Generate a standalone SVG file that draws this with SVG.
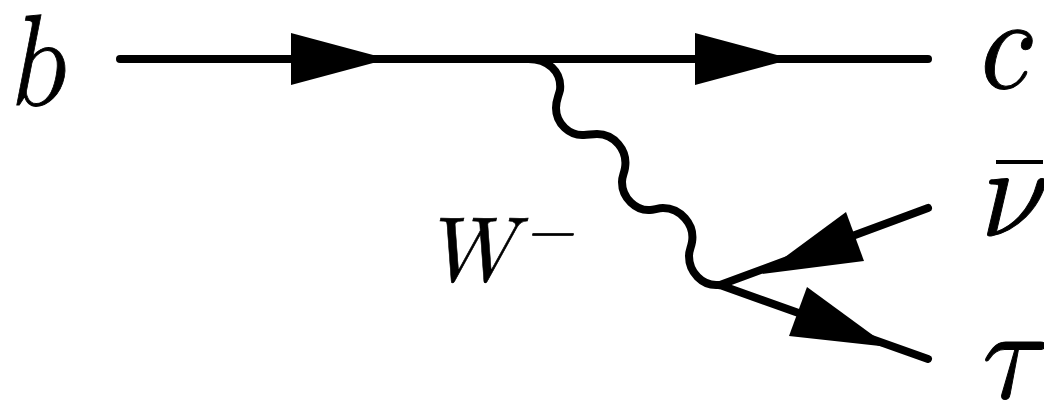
<svg xmlns="http://www.w3.org/2000/svg" width="1044" height="401" viewBox="0 0 1044 401">
<style>
.l{fill:none;stroke:#000;stroke-width:8;stroke-linecap:round;stroke-linejoin:round}
.a{fill:#000;stroke:none}
.t{font-family:"Latin Modern Math","Liberation Serif",serif;font-style:italic;fill:#000;stroke:#000;stroke-width:1}
</style>
<rect width="1044" height="401" fill="#fff"/>
<g id="connectors">
<path class="l" d="M120 59H928"/>
<path class="a" d="M291 33L388 59L291 85Z"/>
<path class="a" d="M695 33L792 59L695 85Z"/>
<path class="l" d="M526 59C548 58 562 72 560 90C558 98 556 100 556 108C556 124 570 136 584 135C588 135 592 134 597 134C614 134 628 150 625 168C624 174 622 176 622 182C622 198 636 211 650 210C654 210 658 208 663 208C680 208 695 224 692 242C691 248 689 250 689 256C689 272 702 286 718 285"/>
<path class="l" d="M720 285L928 208"/>
<path class="a" d="M762 274L846 212L864 261Z"/>
<path class="l" d="M720 285L928 359"/>
<path class="a" d="M807 287L889 347L789 336Z"/>
</g>
<g id="b"><text class="t" transform="translate(6 105) scale(.78 1)" font-size="130">b</text></g>
<g id="c"><text class="t" transform="translate(976 88) scale(.88 1)" font-size="130">c</text></g>
<g id="nubar"><text class="t" transform="translate(979 236) scale(.95 1)" font-size="130">ν</text><rect x="996" y="160" width="47" height="4" fill="#000"/></g>
<g id="tau"><text class="t" transform="translate(976 398) scale(.95 1)" font-size="130">τ</text></g>
<g id="W"><text class="t" transform="translate(424 281) scale(.96 1)" font-size="92" style="stroke-width:.6">W</text><text class="t" x="525" y="250" font-size="62" font-style="normal" style="stroke-width:.6">−</text></g>
</svg>
